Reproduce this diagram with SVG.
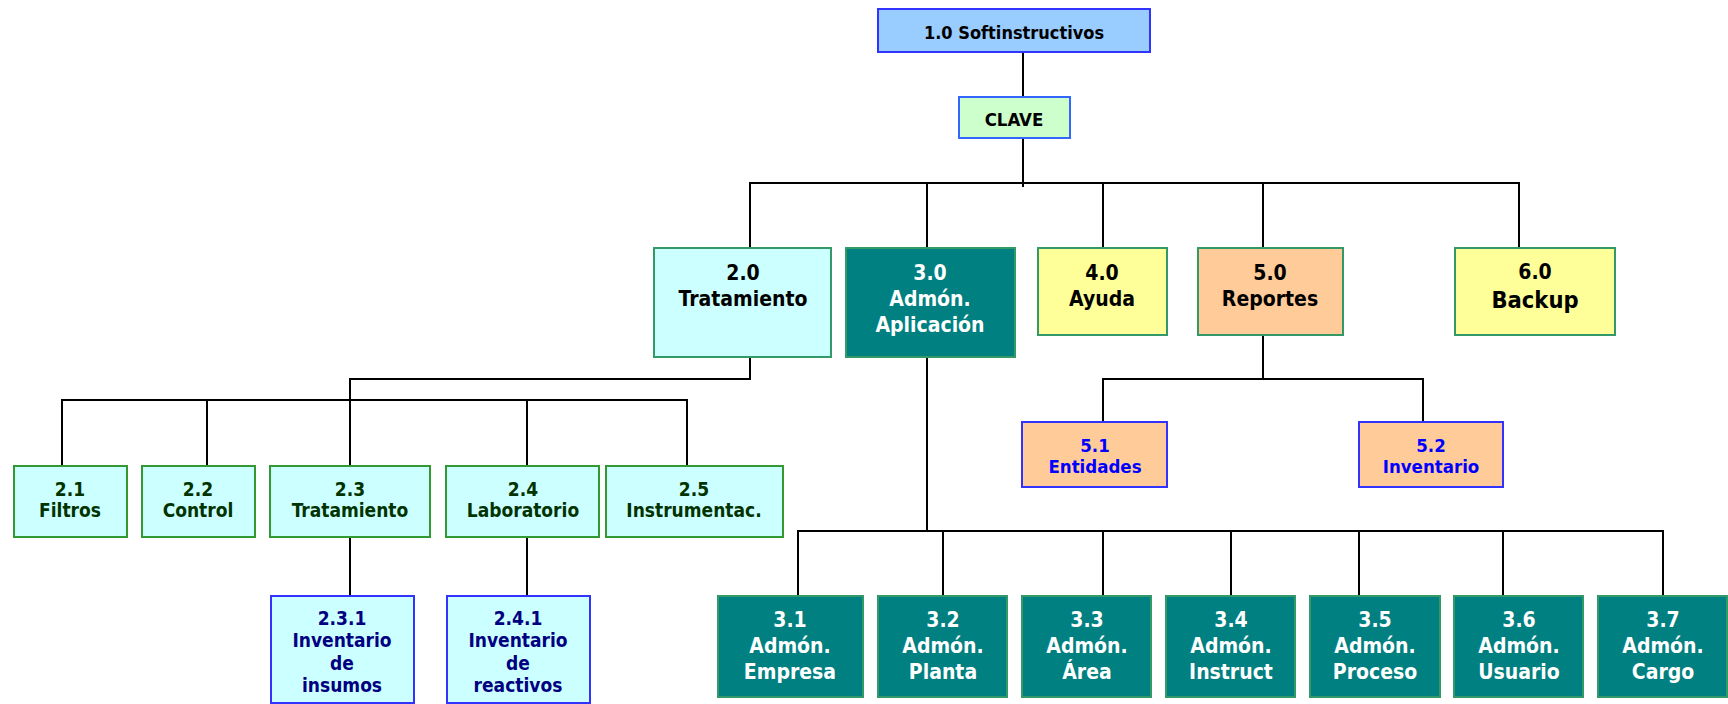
<svg xmlns="http://www.w3.org/2000/svg" width="1728" height="704" viewBox="0 0 1728 704">
  <style>
    text { font-family: "DejaVu Sans Condensed", "DejaVu Sans", "Liberation Sans", sans-serif; font-stretch: condensed; font-weight: bold; text-anchor: middle; }
    .wire { fill: none; stroke: #000; stroke-width: 2; stroke-linejoin: miter; }
    .root { fill: #99CCFF; stroke: #3333FF; stroke-width: 2; }
    .key { fill: #CCFFCC; stroke: #3366FF; stroke-width: 2; }
    .main { stroke: #339966; stroke-width: 2; }
    .cyan { fill: #CCFFFF; }
    .teal { fill: #008080; }
    .yellow { fill: #FFFF99; }
    .peach { fill: #FFCC99; }
    .sub { fill: #CCFFFF; stroke: #339933; stroke-width: 2; }
    .inv { fill: #CCFFFF; stroke: #3333FF; stroke-width: 2; }
    .rep { fill: #FFCC99; stroke: #3333FF; stroke-width: 2; }
    .adm { fill: #008080; stroke: #339966; stroke-width: 2; }
    .t18 { font-size: 18px; fill: #000; }
    .t21 { font-size: 21px; fill: #000; }
    .t24 { font-size: 23.5px; fill: #000; }
    .w21 { font-size: 21px; fill: #FFFFFF; }
    .g19 { font-size: 19px; fill: #003300; }
    .n19 { font-size: 19px; fill: #000080; }
    .b18 { font-size: 18.5px; fill: #0000FF; }
  </style>

  <!-- connectors -->
  <g id="connectors">
    <path class="wire" d="M1023 52 V97 M1023 138 V187"/>
    <path class="wire" d="M750 248 V183 H1519 V248 M927 183 V248 M1103 183 V248 M1263 183 V248"/>
    <path class="wire" d="M750 357 V379 H350 V466"/>
    <path class="wire" d="M62 466 V400 H687 V466 M207 400 V466 M527 400 V466"/>
    <path class="wire" d="M350 537 V596 M527 537 V596"/>
    <path class="wire" d="M1263 335 V379 M1103 422 V379 H1423 V422"/>
    <path class="wire" d="M927 357 V531 M798 596 V531 H1663 V596 M943 531 V596 M1103 531 V596 M1231 531 V596 M1359 531 V596 M1503 531 V596"/>
  </g>

  <g id="n1-0">
    <rect class="root" x="878" y="9" width="272" height="43"/>
    <text class="t18" x="1014" y="39">1.0 Softinstructivos</text>
  </g>
  <g id="n-clave">
    <rect class="key" x="959" y="97" width="111" height="41"/>
    <text class="t18" x="1014" y="126" style="font-size:18.5px">CLAVE</text>
  </g>

  <g id="n2-0">
    <rect class="main cyan" x="654" y="248" width="177" height="109"/>
    <text class="t21" x="743" y="280">2.0</text>
    <text class="t21" x="743" y="306">Tratamiento</text>
  </g>
  <g id="n3-0">
    <rect class="main teal" x="846" y="248" width="169" height="109"/>
    <text class="w21" x="930" y="280">3.0</text>
    <text class="w21" x="930" y="306">Admón.</text>
    <text class="w21" x="930" y="332">Aplicación</text>
  </g>
  <g id="n4-0">
    <rect class="main yellow" x="1038" y="248" width="129" height="87"/>
    <text class="t21" x="1102" y="280">4.0</text>
    <text class="t21" x="1102" y="306">Ayuda</text>
  </g>
  <g id="n5-0">
    <rect class="main peach" x="1198" y="248" width="145" height="87"/>
    <text class="t21" x="1270" y="280">5.0</text>
    <text class="t21" x="1270" y="306">Reportes</text>
  </g>
  <g id="n6-0">
    <rect class="main yellow" x="1455" y="248" width="160" height="87"/>
    <text class="t21" x="1535" y="279">6.0</text>
    <text class="t24" x="1535" y="308">Backup</text>
  </g>

  <g id="n2-1">
    <rect class="sub" x="14" y="466" width="113" height="71"/>
    <text class="g19" x="70" y="496">2.1</text>
    <text class="g19" x="70" y="517">Filtros</text>
  </g>
  <g id="n2-2">
    <rect class="sub" x="142" y="466" width="113" height="71"/>
    <text class="g19" x="198" y="496">2.2</text>
    <text class="g19" x="198" y="517">Control</text>
  </g>
  <g id="n2-3">
    <rect class="sub" x="270" y="466" width="160" height="71"/>
    <text class="g19" x="350" y="496">2.3</text>
    <text class="g19" x="350" y="517">Tratamiento</text>
  </g>
  <g id="n2-4">
    <rect class="sub" x="446" y="466" width="153" height="71"/>
    <text class="g19" x="523" y="496">2.4</text>
    <text class="g19" x="523" y="517">Laboratorio</text>
  </g>
  <g id="n2-5">
    <rect class="sub" x="606" y="466" width="177" height="71"/>
    <text class="g19" x="694" y="496">2.5</text>
    <text class="g19" x="694" y="517">Instrumentac.</text>
  </g>

  <g id="n2-3-1">
    <rect class="inv" x="271" y="596" width="143" height="107"/>
    <text class="n19" x="342" y="625">2.3.1</text>
    <text class="n19" x="342" y="647">Inventario</text>
    <text class="n19" x="342" y="670">de</text>
    <text class="n19" x="342" y="692">insumos</text>
  </g>
  <g id="n2-4-1">
    <rect class="inv" x="447" y="596" width="143" height="107"/>
    <text class="n19" x="518" y="625">2.4.1</text>
    <text class="n19" x="518" y="647">Inventario</text>
    <text class="n19" x="518" y="670">de</text>
    <text class="n19" x="518" y="692">reactivos</text>
  </g>

  <g id="n5-1">
    <rect class="rep" x="1022" y="422" width="145" height="65"/>
    <text class="b18" x="1095" y="452">5.1</text>
    <text class="b18" x="1095" y="473">Entidades</text>
  </g>
  <g id="n5-2">
    <rect class="rep" x="1359" y="422" width="144" height="65"/>
    <text class="b18" x="1431" y="452">5.2</text>
    <text class="b18" x="1431" y="473">Inventario</text>
  </g>

  <g id="n3-1">
    <rect class="adm" x="718" y="596" width="145" height="101"/>
    <text class="w21" x="790" y="627">3.1</text>
    <text class="w21" x="790" y="653">Admón.</text>
    <text class="w21" x="790" y="679">Empresa</text>
  </g>
  <g id="n3-2">
    <rect class="adm" x="878" y="596" width="129" height="101"/>
    <text class="w21" x="943" y="627">3.2</text>
    <text class="w21" x="943" y="653">Admón.</text>
    <text class="w21" x="943" y="679">Planta</text>
  </g>
  <g id="n3-3">
    <rect class="adm" x="1022" y="596" width="129" height="101"/>
    <text class="w21" x="1087" y="627">3.3</text>
    <text class="w21" x="1087" y="653">Admón.</text>
    <text class="w21" x="1087" y="679">Área</text>
  </g>
  <g id="n3-4">
    <rect class="adm" x="1166" y="596" width="129" height="101"/>
    <text class="w21" x="1231" y="627">3.4</text>
    <text class="w21" x="1231" y="653">Admón.</text>
    <text class="w21" x="1231" y="679">Instruct</text>
  </g>
  <g id="n3-5">
    <rect class="adm" x="1310" y="596" width="130" height="101"/>
    <text class="w21" x="1375" y="627">3.5</text>
    <text class="w21" x="1375" y="653">Admón.</text>
    <text class="w21" x="1375" y="679">Proceso</text>
  </g>
  <g id="n3-6">
    <rect class="adm" x="1454" y="596" width="129" height="101"/>
    <text class="w21" x="1519" y="627">3.6</text>
    <text class="w21" x="1519" y="653">Admón.</text>
    <text class="w21" x="1519" y="679">Usuario</text>
  </g>
  <g id="n3-7">
    <rect class="adm" x="1598" y="596" width="129" height="101"/>
    <text class="w21" x="1663" y="627">3.7</text>
    <text class="w21" x="1663" y="653">Admón.</text>
    <text class="w21" x="1663" y="679">Cargo</text>
  </g>
</svg>
